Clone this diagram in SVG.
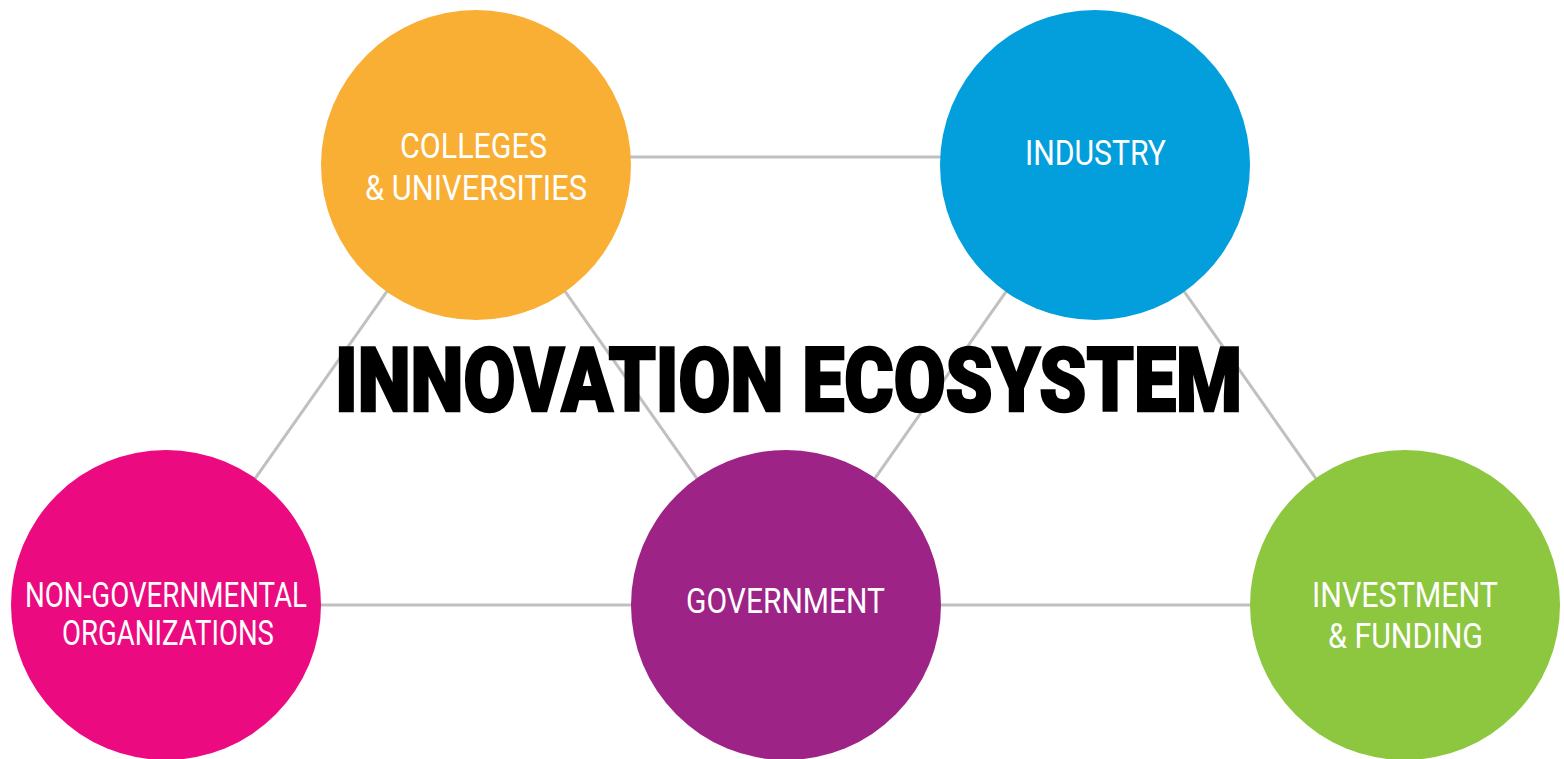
<svg xmlns="http://www.w3.org/2000/svg" width="1564" height="759" viewBox="0 0 1564 759">
<style>
.bg{fill:#ffffff}
.conn line{stroke:#c0c0c0;stroke-width:3;fill:none}
.lbl{font-family:Roboto,"Liberation Sans",sans-serif;font-size:35px;font-weight:400;fill:#ffffff}
.title{font-family:Roboto,"Liberation Sans",sans-serif;font-size:89px;font-weight:900;fill:#000000;stroke:#000000;stroke-width:2.5;stroke-linejoin:miter}
</style>
<rect class="bg" x="0" y="0" width="1564" height="759"/>
<g id="connectors" class="conn">
<line x1="476" y1="157" x2="1095" y2="157"/>
<line x1="166" y1="605" x2="786" y2="605"/>
<line x1="786" y1="605" x2="1405" y2="605"/>
<line x1="166" y1="605" x2="476" y2="165"/>
<line x1="476" y1="165" x2="786" y2="605"/>
<line x1="786" y1="605" x2="1095" y2="165"/>
<line x1="1095" y1="165" x2="1405" y2="605"/>
</g>
<g id="colleges">
<circle cx="476" cy="165" r="155" fill="#f9ae34"/>
<text class="lbl" x="400" y="158" textLength="147" lengthAdjust="spacingAndGlyphs">COLLEGES</text>
<text class="lbl" x="365" y="200" textLength="222" lengthAdjust="spacingAndGlyphs">&amp; UNIVERSITIES</text>
</g>
<g id="industry">
<circle cx="1095" cy="165" r="155" fill="#039edc"/>
<text class="lbl" x="1025" y="165" textLength="141" lengthAdjust="spacingAndGlyphs">INDUSTRY</text>
</g>
<g id="ngo">
<circle cx="166" cy="605" r="155" fill="#eb0a7f"/>
<text class="lbl" x="25" y="607" textLength="282" lengthAdjust="spacingAndGlyphs">NON-GOVERNMENTAL</text>
<text class="lbl" x="62" y="645" textLength="212" lengthAdjust="spacingAndGlyphs">ORGANIZATIONS</text>
</g>
<g id="government">
<circle cx="786" cy="605" r="155" fill="#9d2387"/>
<text class="lbl" x="686" y="613" textLength="199" lengthAdjust="spacingAndGlyphs">GOVERNMENT</text>
</g>
<g id="investment">
<circle cx="1405" cy="605" r="155" fill="#8dc63f"/>
<text class="lbl" x="1312" y="607" textLength="186" lengthAdjust="spacingAndGlyphs">INVESTMENT</text>
<text class="lbl" x="1328" y="648" textLength="155" lengthAdjust="spacingAndGlyphs">&amp; FUNDING</text>
</g>
<g id="title">
<text class="title" x="335" y="411" textLength="907" lengthAdjust="spacingAndGlyphs">INNOVATION ECOSYSTEM</text>
</g>
</svg>
